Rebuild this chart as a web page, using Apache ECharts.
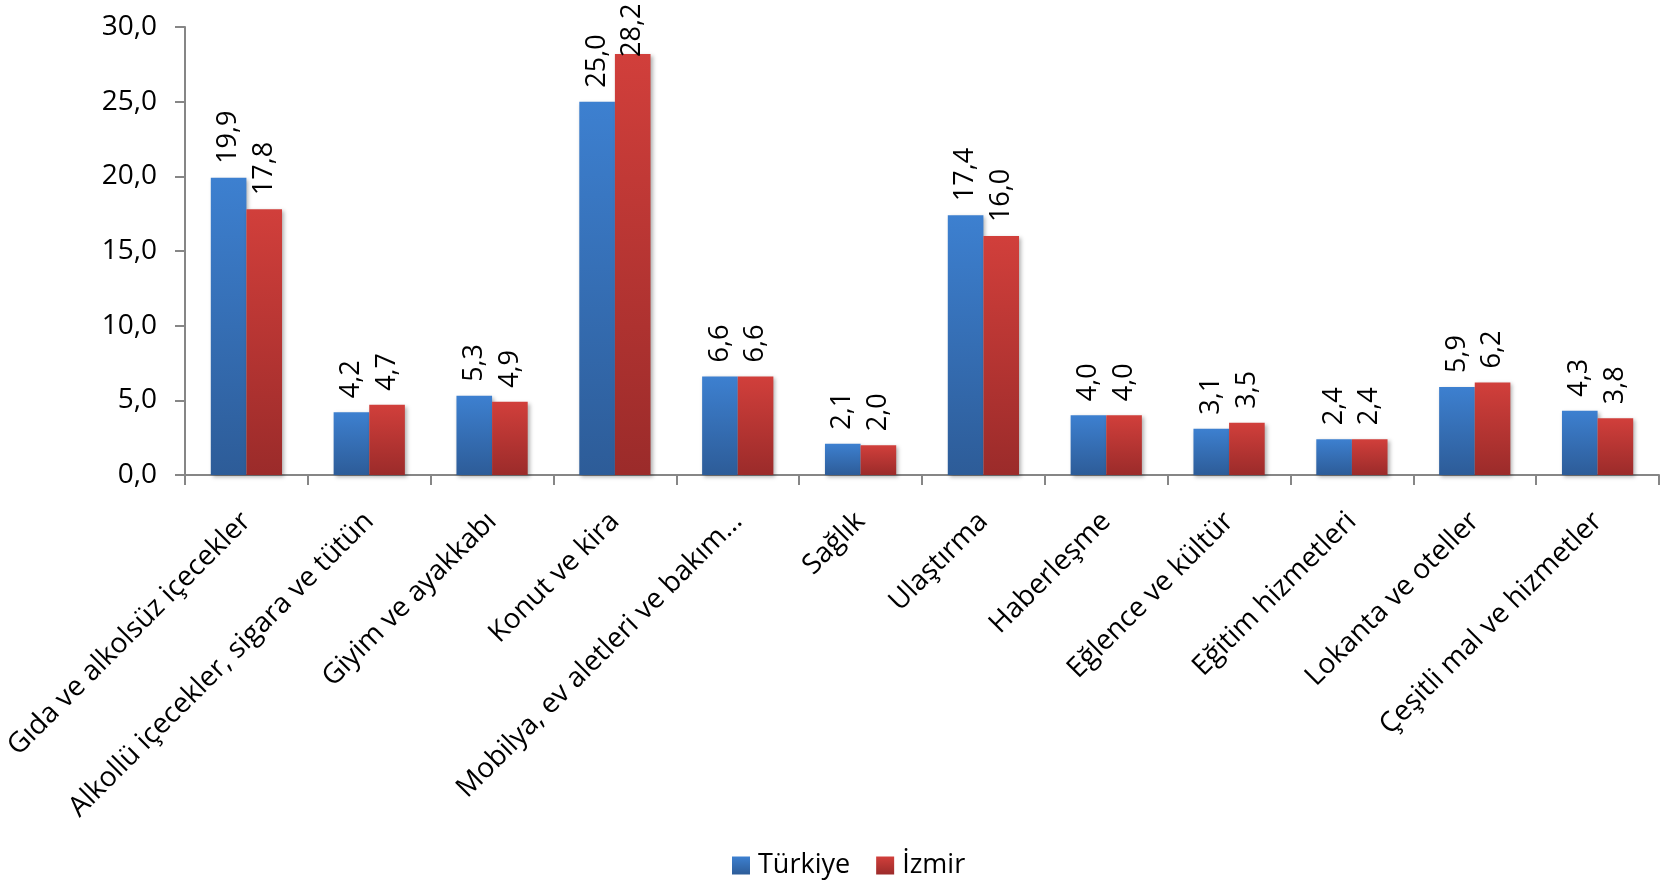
<!DOCTYPE html>
<html>
<head>
<meta charset="utf-8">
<script src="https://cdn.jsdelivr.net/npm/echarts@6/dist/echarts.min.js"></script>
<style>
html,body{margin:0;padding:0;background:#fff;}
#chart{width:1662px;height:884px;}
</style>
</head>
<body>
<div id="chart"></div>
<script>
const categories = [
  "Gıda ve alkolsüz içecekler",
  "Alkollü içecekler, sigara ve tütün",
  "Giyim ve ayakkabı",
  "Konut ve kira",
  "Mobilya, ev aletleri ve bakım…",
  "Sağlık",
  "Ulaştırma",
  "Haberleşme",
  "Eğlence ve kültür",
  "Eğitim hizmetleri",
  "Lokanta ve oteller",
  "Çeşitli mal ve hizmetler"
];
const turkiye = [19.9, 4.2, 5.3, 25.0, 6.6, 2.1, 17.4, 4.0, 3.1, 2.4, 5.9, 4.3];
const izmir = [17.8, 4.7, 4.9, 28.2, 6.6, 2.0, 16.0, 4.0, 3.5, 2.4, 6.2, 3.8];
const seriesNames = ["Türkiye", "İzmir"];

const FONT = "'Open Sans', sans-serif";
const fmt = v => Number(v).toFixed(1).replace('.', ',');

function grad(top, bottom) {
  return new echarts.graphic.LinearGradient(0, 0, 0, 1, [
    {offset: 0, color: top}, {offset: 1, color: bottom}
  ]);
}

const labelCfg = {
  show: true,
  position: 'top',
  rotate: 90,
  align: 'left',
  verticalAlign: 'middle',
  distance: 14,
  color: '#000',
  fontFamily: FONT,
  fontSize: 27,
  formatter: p => fmt(p.value)
};

const chart = echarts.init(document.getElementById('chart'));
chart.setOption({
  animation: false,
  backgroundColor: '#fff',
  grid: {left: 185, right: 3, top: 27, bottom: 409, containLabel: false},
  legend: {
    bottom: 0,
    left: 727,
    icon: 'rect',
    itemWidth: 18,
    itemHeight: 18,
    itemGap: 26,
    textStyle: {fontFamily: FONT, fontSize: 27, color: '#000', padding: [0, 0, 0, 3]},
    data: seriesNames
  },
  labelLayout: function (params) {
    // keep labels of very tall bars inside the canvas (as the source does)
    if (params.rect && params.rect.y < 80) {
      return {y: params.rect.y + 3};
    }
  },
  xAxis: {
    type: 'category',
    data: categories,
    axisLine: {lineStyle: {color: '#868686', width: 2}},
    axisTick: {show: true, length: 10, lineStyle: {color: '#868686', width: 2}},
    axisLabel: {
      rotate: 45,
      interval: 0,
      margin: 42,
      color: '#000',
      fontFamily: FONT,
      fontSize: 28
    }
  },
  yAxis: {
    type: 'value',
    min: 0,
    max: 30,
    interval: 5,
    splitLine: {show: false},
    axisLine: {show: true, lineStyle: {color: '#868686', width: 2}},
    axisTick: {show: true, length: 10, lineStyle: {color: '#868686', width: 2}},
    axisLabel: {
      margin: 28,
      color: '#000',
      fontFamily: FONT,
      fontSize: 28,
      formatter: v => fmt(v)
    }
  },
  series: [
    {
      name: seriesNames[0],
      type: 'bar',
      data: turkiye,
      barGap: '0%',
      barCategoryGap: '42%',
      itemStyle: {
        color: grad('#3d80d0', '#2d5c98'),
        shadowColor: 'rgba(0,0,0,0.3)',
        shadowBlur: 4,
        shadowOffsetX: 2,
        shadowOffsetY: 2
      },
      label: labelCfg
    },
    {
      name: seriesNames[1],
      type: 'bar',
      data: izmir,
      barGap: '0%',
      barCategoryGap: '42%',
      itemStyle: {
        color: grad('#d13f3b', '#9b2b2a'),
        shadowColor: 'rgba(0,0,0,0.3)',
        shadowBlur: 4,
        shadowOffsetX: 2,
        shadowOffsetY: 2
      },
      label: labelCfg
    }
  ]
});
</script>
</body>
</html>
